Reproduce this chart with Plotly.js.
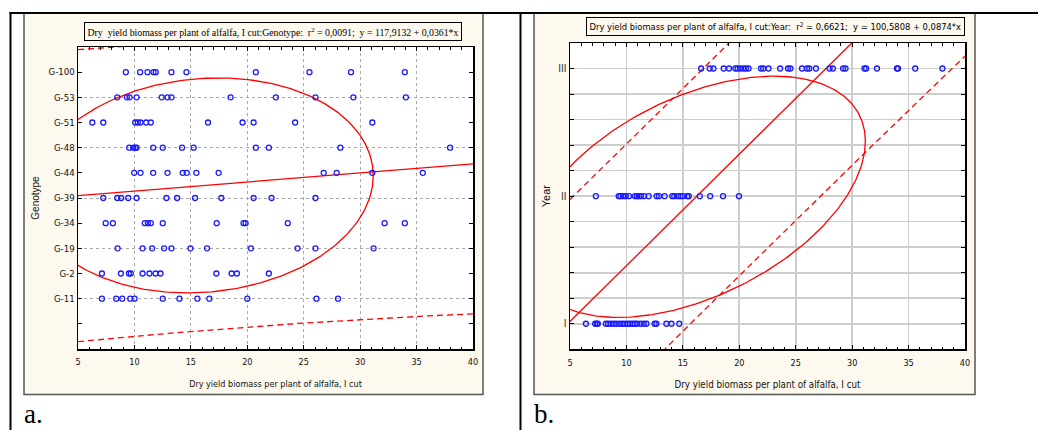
<!DOCTYPE html>
<html><head><meta charset="utf-8">
<script src="https://cdn.plot.ly/plotly-3.0.1.min.js"></script>
<style>html,body{margin:0;padding:0;background:#fff;} #chart{width:1038px;height:430px;}</style>
</head><body><div id="chart"></div>
<script>
// ---------- Panel a: yield vs genotype ----------
const genotypeLabels = ['G-11','G-2','G-19','G-34','G-39','G-44','G-48','G-51','G-53','G-100'];
const genotypeCodes  = [114,115,116,117,118,119,120,121,122,123];
const yieldG11  = [7.12, 8.39, 8.92, 9.63, 10.01, 12.51, 13.99, 15.58, 16.64, 20.00, 26.13, 28.04];
const yieldG2   = [7.12, 8.80, 9.51, 9.68, 10.72, 11.33, 11.87, 12.31, 17.26, 18.61, 19.08, 21.91];
const yieldG19  = [8.51, 10.72, 11.57, 12.63, 13.28, 14.96, 16.43, 20.32, 24.45, 26.04, 31.19];
const yieldG34  = [7.45, 8.09, 10.92, 11.19, 11.45, 12.51, 17.29, 19.67, 19.85, 23.59, 32.17, 33.96];
const yieldG39  = [7.24, 8.48, 8.83, 9.45, 10.19, 12.84, 13.78, 15.37, 17.70, 20.56, 22.15, 26.04];
const yieldG44  = [9.98, 10.54, 11.66, 12.93, 14.28, 14.63, 15.49, 17.46, 26.77, 27.92, 31.08, 35.55];
const yieldG48  = [9.54, 9.89, 10.07, 10.19, 11.66, 12.51, 14.22, 15.25, 20.76, 21.91, 28.25, 37.97];
const yieldG51  = [6.27, 7.24, 10.07, 10.30, 10.54, 11.04, 11.45, 16.52, 19.58, 20.56, 24.24, 31.08];
const yieldG53  = [8.48, 9.33, 9.57, 10.19, 12.42, 12.93, 13.28, 18.52, 22.53, 26.04, 29.40, 34.05];
const yieldG100 = [9.24, 10.51, 11.16, 11.69, 11.89, 13.28, 14.61, 20.76, 25.51, 29.19, 33.96];
const genotypeYields = [yieldG11, yieldG2, yieldG19, yieldG34, yieldG39, yieldG44, yieldG48, yieldG51, yieldG53, yieldG100];
// regression  y = 117,9132 + 0,0361*x ; r2 = 0,0091
const regA = {a: 117.9132, b: 0.0361};
const ellipseA = {cx: 16.06, cy: 118.5, rx: 15.1, ry: 4.27, r: 0.09};
const bandA = {mx: 16.0, A: 33.14, B: 0.00413};
const yGridA = [114,116,118,120,122];

// ---------- Panel b: yield vs year ----------
const yearLabels = ['I','II','III'];
const yearCodes  = [101,102,103];
const yieldYearI   = [6.41, 7.23, 7.38, 7.47, 8.18, 8.38, 8.62, 8.88, 9.12, 9.39, 9.65, 9.88, 10.14, 10.32, 10.53, 10.74, 10.94, 11.24, 11.53, 11.77, 12.50, 12.66, 13.54, 13.99, 14.68];
const yieldYearII  = [7.29, 9.32, 9.47, 9.70, 9.94, 10.23, 10.76, 10.94, 11.11, 11.29, 11.56, 11.97, 12.68, 12.88, 13.38, 14.06, 14.24, 14.56, 14.79, 15.00, 15.39, 15.53, 16.50, 17.42, 18.56, 19.97];
const yieldYearIII = [16.62, 17.38, 17.71, 18.62, 19.09, 19.65, 19.85, 20.09, 20.35, 20.59, 20.82, 21.92, 22.12, 22.59, 23.62, 24.32, 24.53, 25.56, 26.00, 26.20, 26.79, 28.00, 28.29, 29.20, 29.41, 31.09, 31.24, 32.20, 33.97, 34.06, 35.59, 38.00];
const yearYields = [yieldYearI, yieldYearII, yieldYearIII];
// regression  y = 100,5808 + 0,0874*x ; r2 = 0,6621
const regB = {a: 100.5808, b: 0.0874};
const ellipseB = {cx: 16.17, cy: 101.995, rx: 15.0, ry: 0.945, r: 0.46};
const bandB = {mx: 16.2, A: 0.9025, B: 0.0001};

const xTitle = 'Dry yield biomass per plant of alfalfa, I cut';
const boxTextA = 'Dry\u00a0 yield biomass per plant of alfalfa, I cut:Genotype:\u00a0 r<sup>2</sup> = 0,0091;\u00a0 y = 117,9132 + 0,0361*x';
const boxTextB = 'Dry yield biomass per plant of alfalfa, I cut:Year:\u00a0 r<sup>2</sup> = 0,6621;\u00a0 y = 100,5808 + 0,0874*x';

// ---------- helpers ----------
const W = 1038, H = 430;
const px = v => v / W, py = v => 1 - v / H;
const NARROW = '"Liberation Sans Narrow", "Arial Narrow", "DejaVu Sans Condensed", sans-serif';
const SANS = '"Liberation Sans", Arial, sans-serif';
const SERIF = '"Liberation Serif", "Times New Roman", serif';
const RED = '#ff0000', BLUE = '#1a1aff';

const xs = []; for (let v = 5; v <= 40.0001; v += 0.25) xs.push(v);
function ellipse(p) {
  const ex = [], ey = [], phi = Math.acos(p.r);
  for (let k = 0; k <= 360; k++) { const t = k * Math.PI / 180; ex.push(p.cx + p.rx * Math.cos(t)); ey.push(p.cy + p.ry * Math.cos(t - phi)); }
  return [ex, ey];
}
function band(reg, bd, sign) { return xs.map(x => reg.a + reg.b * x + sign * Math.sqrt(bd.A + bd.B * (x - bd.mx) * (x - bd.mx))); }

const traces = [];
function addPanel(xa, ya, yieldsList, codes, reg, el, bd) {
  const [ex, ey] = ellipse(el);
  traces.push({type:'scatter', mode:'lines', x: ex, y: ey, xaxis: xa, yaxis: ya, line:{color:RED, width:1.3}, hoverinfo:'skip'});
  traces.push({type:'scatter', mode:'lines', x: xs, y: xs.map(x => reg.a + reg.b * x), xaxis: xa, yaxis: ya, line:{color:RED, width:1.3}, hoverinfo:'skip'});
  traces.push({type:'scatter', mode:'lines', x: xs, y: band(reg, bd, 1), xaxis: xa, yaxis: ya, line:{color:RED, width:1.3, dash:'6px,4px'}, hoverinfo:'skip'});
  traces.push({type:'scatter', mode:'lines', x: xs, y: band(reg, bd, -1), xaxis: xa, yaxis: ya, line:{color:RED, width:1.3, dash:'6px,4px'}, hoverinfo:'skip'});
  yieldsList.forEach((vals, i) => traces.push({type:'scatter', mode:'markers', x: vals, y: vals.map(() => codes[i]), xaxis: xa, yaxis: ya,
    marker:{symbol:'circle-open', size:5, color:BLUE, line:{width:1.3, color:BLUE}}, hoverinfo:'skip'}));
}
// dummy trace so the grid-only overlay axis is drawn
traces.push({type:'scatter', mode:'markers', x:[null], y:[null], xaxis:'x', yaxis:'y3', hoverinfo:'skip'});
addPanel('x', 'y', genotypeYields, genotypeCodes, regA, ellipseA, bandA);
addPanel('x2', 'y2', yearYields, yearCodes, regB, ellipseB, bandB);

const tickFont = {family: NARROW, size: 9, color: '#111'};
function xAxisDef(domain, anchor, gridStyle, titleSize) {
  return Object.assign({domain: domain, anchor: anchor, range: [5, 40], tick0: 5, dtick: 5, showline: true, linecolor: '#000', linewidth: 1.5,
    mirror: 'ticks', ticks: 'inside', ticklen: 4, tickcolor: '#000', tickwidth: 1, zeroline: false, tickfont: tickFont, ticklabelstandoff: 4,
    minor: {dtick: 1, ticks: 'inside', ticklen: 2.5, tickcolor: '#000', showgrid: false},
    title: {text: xTitle, font: {family: NARROW, size: titleSize, color: '#111'}, standoff: 14}}, gridStyle);
}
const layout = {
  width: W, height: H, margin: {l:0, r:0, t:0, b:0}, autosize: false, showlegend: false,
  paper_bgcolor: '#fff', plot_bgcolor: '#fff',
  xaxis: xAxisDef([px(78), px(473)], 'y', {showgrid: true, gridcolor: '#a8a8a8', griddash: 'dot', gridwidth: 1}, 9),
  yaxis: {domain: [py(349), py(47)], anchor: 'x', range: [112, 124], tickmode: 'array', tickvals: genotypeCodes, ticktext: genotypeLabels,
    showgrid: false, showline: true, linecolor: '#000', linewidth: 1.5, mirror: 'ticks', ticks: 'inside', ticklen: 4, tickcolor: '#000',
    minor: {tickmode: 'linear', tick0: 112, dtick: 1, ticks: 'inside', ticklen: 4, tickcolor: '#000', showgrid: false},
    zeroline: false, tickfont: {family: NARROW, size: 9.5, color: '#111'}, title: {text: 'Genotype', font: {family: SANS, size: 10, color: '#111'}, standoff: 7}},
  yaxis3: {overlaying: 'y', anchor: 'x', range: [112, 124], tickmode: 'array', tickvals: yGridA, showticklabels: false, ticks: '',
    showgrid: true, gridcolor: '#a8a8a8', griddash: 'dot', gridwidth: 1, showline: false, zeroline: false},
  xaxis2: xAxisDef([px(570), px(965)], 'y2', {showgrid: true, gridcolor: '#cdcdcd', gridwidth: 1.6}, 9.7),
  yaxis2: {domain: [py(349.3), py(43)], anchor: 'x2', range: [100.8, 103.2], tickmode: 'array', tickvals: yearCodes, ticktext: yearLabels,
    showgrid: true, gridcolor: '#cdcdcd', gridwidth: 1.6, showline: true, linecolor: '#000', linewidth: 1.5, mirror: 'ticks',
    ticks: 'inside', ticklen: 4, tickcolor: '#000', zeroline: false, tickfont: {family: SANS, size: 10, color: '#333'},
    minor: {tickmode: 'linear', tick0: 100.8, dtick: 0.2, ticks: 'inside', ticklen: 4, tickcolor: '#000',
      showgrid: true, gridcolor: '#cdcdcd', gridwidth: 1.6},
    title: {text: 'Year', font: {family: SANS, size: 11, color: '#111'}, standoff: 5}},
  shapes: [
    {type:'rect', xref:'paper', yref:'paper', x0:px(24), x1:px(483), y0:py(13), y1:py(394.5), fillcolor:'#fdf9ee', line:{color:'#555', width:1.5}, layer:'below'},
    {type:'rect', xref:'paper', yref:'paper', x0:px(78), x1:px(473), y0:py(47), y1:py(349), fillcolor:'#fff', line:{width:0}, layer:'below'},
    {type:'rect', xref:'paper', yref:'paper', x0:px(534), x1:px(975), y0:py(13), y1:py(394.5), fillcolor:'#fdf9ee', line:{color:'#555', width:1.5}, layer:'below'},
    {type:'rect', xref:'paper', yref:'paper', x0:px(570), x1:px(965), y0:py(43), y1:py(349.3), fillcolor:'#fff', line:{width:0}, layer:'below'},
    {type:'line', xref:'paper', yref:'paper', x0:px(9.5), x1:px(1038), y0:py(13), y1:py(13), line:{color:'#000', width:2.2}},
    {type:'line', xref:'paper', yref:'paper', x0:px(10.5), x1:px(10.5), y0:py(12), y1:py(431), line:{color:'#000', width:2}},
    {type:'line', xref:'paper', yref:'paper', x0:px(520.5), x1:px(520.5), y0:py(12), y1:py(431), line:{color:'#000', width:2}}
  ],
  annotations: [
    {text: boxTextA, xref:'paper', yref:'paper', x: px(273), y: py(31.5), xanchor:'center', yanchor:'middle', showarrow:false,
      font:{family: SERIF, size: 9.8, color:'#000'}, bordercolor:'#000', borderwidth:1, borderpad:2.5, bgcolor:'#fdf9ee'},
    {text: boxTextB, xref:'paper', yref:'paper', x: px(775), y: py(26), xanchor:'center', yanchor:'middle', showarrow:false,
      font:{family: NARROW, size: 9.3, color:'#000'}, bordercolor:'#000', borderwidth:1, borderpad:2.5, bgcolor:'#fdf9ee'},
    {text: 'a.', xref:'paper', yref:'paper', x: px(23), y: py(429.5), xanchor:'left', yanchor:'bottom', showarrow:false, borderpad:0,
      font:{family: SERIF, size: 27, color:'#000'}},
    {text: 'b.', xref:'paper', yref:'paper', x: px(533), y: py(429.5), xanchor:'left', yanchor:'bottom', showarrow:false, borderpad:0,
      font:{family: SERIF, size: 27, color:'#000'}}
  ]
};
Plotly.newPlot('chart', traces, layout, {staticPlot: true, displayModeBar: false});
</script></body></html>
